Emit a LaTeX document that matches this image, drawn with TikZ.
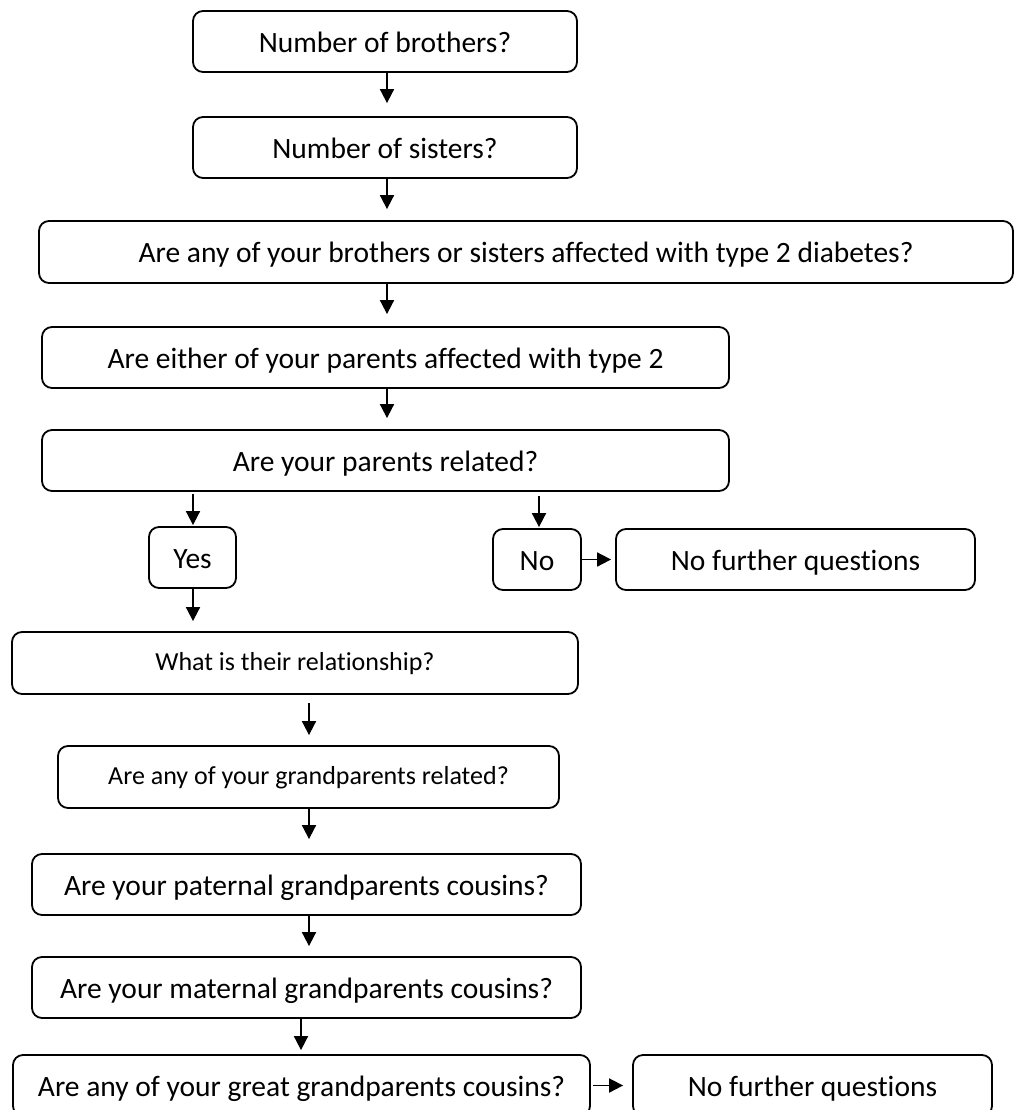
\documentclass[tikz,border=0pt]{standalone}
\usepackage{fontspec}
\setmainfont{Carlito}[Ligatures=NoCommon]
\usetikzlibrary{arrows.meta}

\tikzset{
  qbox/.style={draw, line width=1.8pt, rounded corners=10pt, inner sep=0pt,
    align=center, font=\fontsize{29.5}{35}\selectfont,
    text height=21.5pt, text depth=0pt},
  smalltext/.style={font=\fontsize{26}{31}\selectfont,
    text height=15.4pt, text depth=0pt},
  flow/.style={line width=1.8pt, -{Triangle[length=14pt,width=14pt]}},
}

\begin{document}
\begin{tikzpicture}[x=1pt, y=-1pt]
  \useasboundingbox (0,0) rectangle (1014,1110);
  \clip (0,0) rectangle (1014,1110);

  % question boxes
  \node[qbox, minimum width=384pt, minimum height=61pt] (brothers) at (385,41.5) {Number of brothers?};
  \node[qbox, minimum width=384pt, minimum height=61pt] (sisters) at (385,147.5) {Number of sisters?};
  \node[qbox, minimum width=974pt, minimum height=62pt] (siblings) at (526,252) {Are any of your brothers or sisters affected with type 2 diabetes?};
  \node[qbox, minimum width=687pt, minimum height=61pt] (parents) at (385.5,357.5) {Are either of your parents affected with type 2};
  \node[qbox, minimum width=687pt, minimum height=61pt] (related) at (385.5,460.5) {Are your parents related?};
  \node[qbox, minimum width=87pt, minimum height=61pt] (yes) at (192.5,557.5) {Yes};
  \node[qbox, minimum width=88pt, minimum height=61pt] (no) at (537,559.5) {No};
  \node[qbox, minimum width=359pt, minimum height=61pt] (stopA) at (795.5,559.5) {No further questions};
  \node[qbox, smalltext, minimum width=566pt, minimum height=62pt] (relation) at (295,663) {What is their relationship?};
  \node[qbox, smalltext, minimum width=501pt, minimum height=62pt] (grand) at (308.5,777) {Are any of your grandparents related?};
  \node[qbox, minimum width=549pt, minimum height=61pt] (paternal) at (306.5,884.5) {Are your paternal grandparents cousins?};
  \node[qbox, minimum width=549pt, minimum height=61pt] (maternal) at (306.5,987.5) {Are your maternal grandparents cousins?};
  \node[qbox, minimum width=577pt, minimum height=61pt] (great) at (301.5,1085.5) {Are any of your great grandparents cousins?};
  \node[qbox, minimum width=359pt, minimum height=61pt] (stopB) at (812.5,1085.5) {No further questions};

  % columns used by the vertical connectors
  \coordinate (colMain) at (387,0);
  \coordinate (colYes) at (193,0);
  \coordinate (colNo) at (539,0);
  \coordinate (colGrand) at (309,0);
  \coordinate (colGreat) at (301,0);

  % connectors
  \draw[flow, shorten >=13pt] (brothers.south -| colMain) -- (sisters.north -| colMain);
  \draw[flow, shorten >=11pt] (sisters.south -| colMain) -- (siblings.north -| colMain);
  \draw[flow, shorten >=12pt] (siblings.south -| colMain) -- (parents.north -| colMain);
  \draw[flow, shorten >=11pt] (parents.south -| colMain) -- (related.north -| colMain);
  \draw[flow, shorten <=2pt, shorten >=1pt] (related.south -| colYes) -- (yes.north -| colYes);
  \draw[flow, shorten <=4pt, shorten >=1pt] (related.south -| colNo) -- (no.north -| colNo);
  \draw[flow, shorten >=4pt] (no.east) -- (stopA.west);
  \draw[flow, shorten >=10pt] (yes.south -| colYes) -- (relation.north -| colYes);
  \draw[flow, shorten <=8pt, shorten >=10pt] (relation.south -| colGrand) -- (grand.north -| colGrand);
  \draw[flow, shorten >=14pt] (grand.south -| colGrand) -- (paternal.north -| colGrand);
  \draw[flow, shorten >=10pt] (paternal.south -| colGrand) -- (maternal.north -| colGrand);
  \draw[flow, shorten >=4pt] (maternal.south -| colGreat) -- (great.north -| colGreat);
  \draw[flow, shorten <=2pt, shorten >=9pt] (great.east) -- (stopB.west);
\end{tikzpicture}
\end{document}
